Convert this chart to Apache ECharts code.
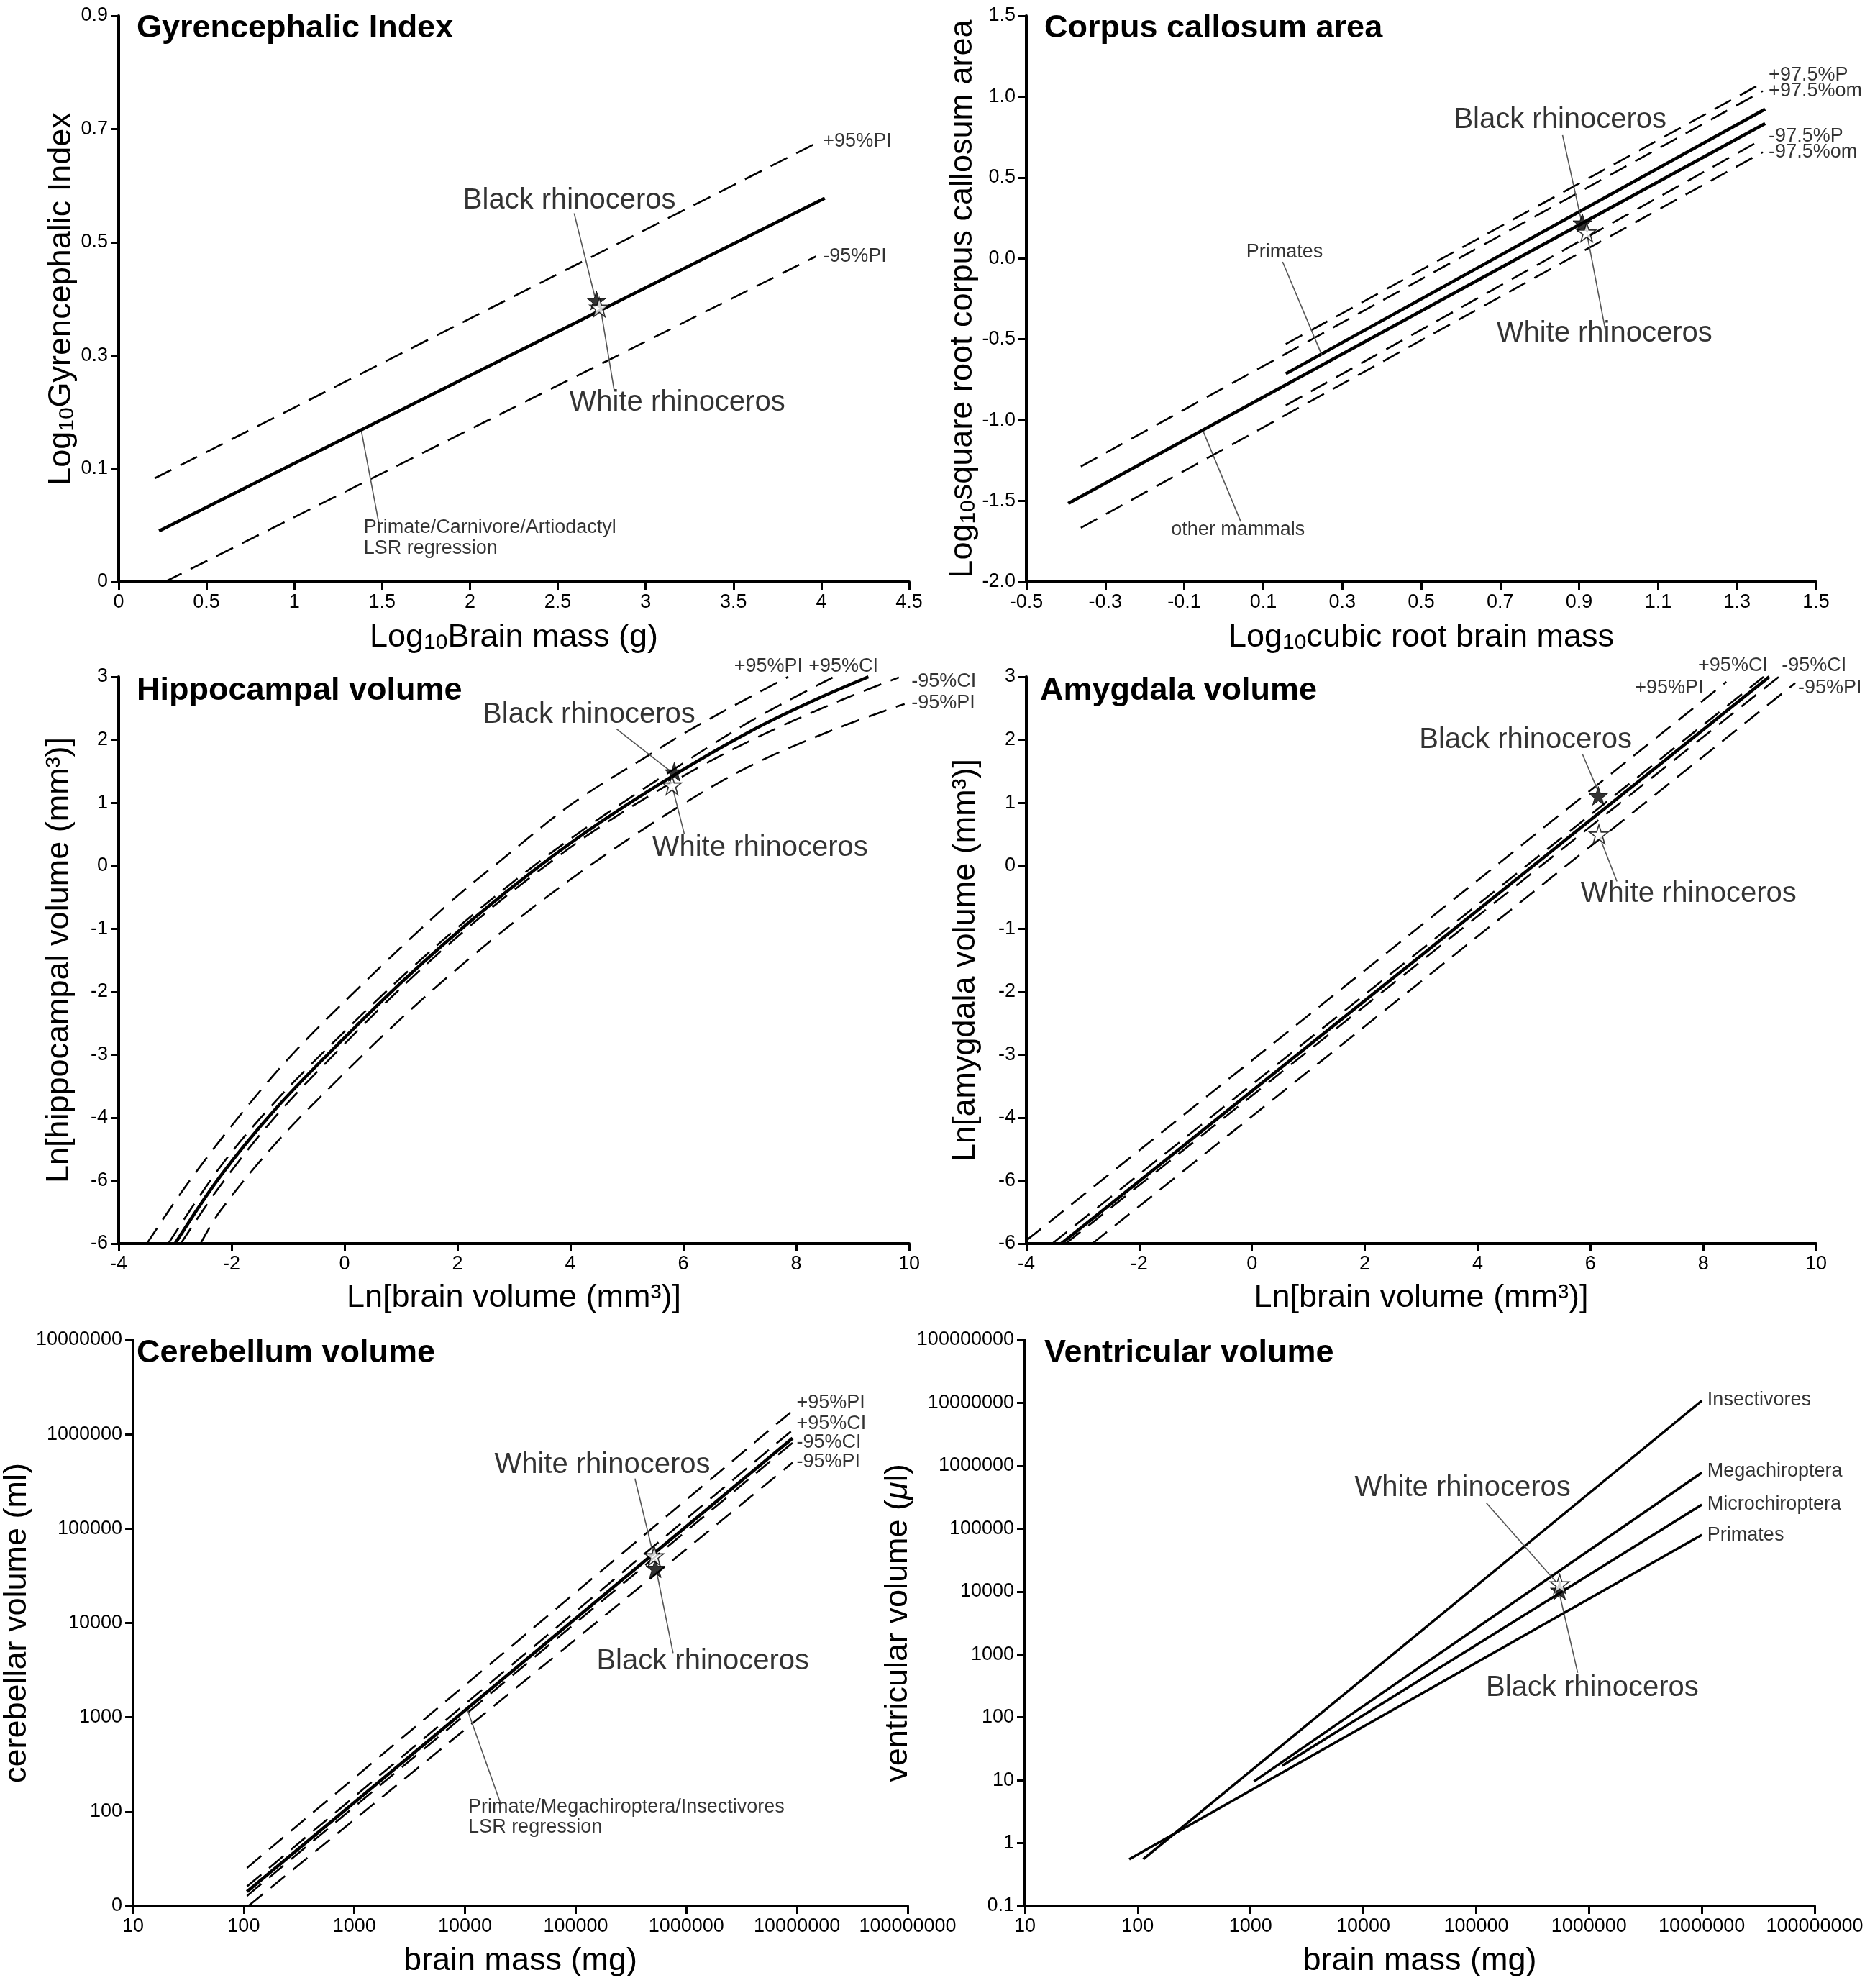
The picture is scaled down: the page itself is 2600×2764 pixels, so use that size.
<!DOCTYPE html>
<html><head><meta charset="utf-8">
<script src="https://cdn.jsdelivr.net/npm/echarts@6/dist/echarts.min.js"></script>
<style>html,body{margin:0;padding:0;background:#fff}#c{width:2600px;height:2764px}</style>
</head><body><div id="c"></div>
<script>
// ================= DATA =================
// A. Gyrencephalic index  (x: log10 brain mass g, y: log10 GI)
const giLSR   = [[0.23,-0.01],[4.02,0.578]];
const giPIup  = [[0.205,0.083],[3.99,0.678]];
const giPIlo  = [[0.263,-0.1],[3.97,0.475]];
const giBlack = [[2.72,0.397]];
const giWhite = [[2.736,0.385]];
const giXTicks  = [0,0.5,1,1.5,2,2.5,3,3.5,4,4.5];
const giXLabels = ['0','0.5','1','1.5','2','2.5','3','3.5','4','4.5'];
const giYTicks  = [-0.1,0.1,0.3,0.5,0.7,0.9];
const giYLabels = ['0','0.1','0.3','0.5','0.7','0.9'];

// B. Corpus callosum area
const ccOther   = [[-0.394,-1.515],[1.371,0.834]];
const ccPrim    = [[0.157,-0.713],[1.371,0.923]];
const ccPup     = [[0.157,-0.53],[1.365,1.086]];
const ccOMup    = [[-0.362,-1.287],[1.365,1.035]];
const ccPlo     = [[0.157,-0.909],[1.365,0.738]];
const ccOMlo    = [[-0.362,-1.666],[1.365,0.657]];
const ccBlack   = [[0.908,0.219]];
const ccWhite   = [[0.919,0.162]];
const ccXTicks  = [-0.5,-0.3,-0.1,0.1,0.3,0.5,0.7,0.9,1.1,1.3,1.5];
const ccXLabels = ['-0.5','-0.3','-0.1','0.1','0.3','0.5','0.7','0.9','1.1','1.3','1.5'];
const ccYTicks  = [-2,-1.5,-1,-0.5,0,0.5,1,1.5];
const ccYLabels = ['-2.0','-1.5','-1.0','-0.5','0.0','0.5','1.0','1.5'];

// C. Hippocampal volume
const hipFit  = [[-3.0,-6],[-2.2,-4.93],[-1.22,-3.86],[-0.10,-2.82],[1.13,-1.75],[2.31,-0.82],[3.4,-0.04],[4.53,0.69],[5.95,1.50],[7.22,2.15],[8.3,2.62],[9.28,3.0]];
const hipCIup = [[-3.12,-6.0],[-2.2,-4.78],[-1.22,-3.74],[-0.10,-2.72],[1.13,-1.67],[2.31,-0.75],[3.4,0.03],[4.53,0.76],[5.95,1.60],[7.22,2.31],[8.67,3.0]];
const hipCIlo = [[-2.9,-6.0],[-2.2,-5.08],[-1.22,-3.98],[-0.10,-2.92],[1.13,-1.83],[2.31,-0.89],[3.4,-0.11],[4.53,0.62],[5.95,1.40],[7.22,2.0],[8.69,2.59],[9.82,2.99]];
const hipPIup = [[-3.5,-6],[-2.79,-5.06],[-1.91,-4.03],[-0.93,-3.0],[0.25,-1.94],[1.82,-0.62],[2.815,0.118],[4.04,0.99],[5.36,1.74],[6.24,2.22],[7.86,3.0]];
const hipPIlo = [[-2.55,-6],[-2.20,-5.48],[-1.22,-4.41],[-0.10,-3.38],[1.13,-2.32],[2.31,-1.40],[3.4,-0.62],[4.53,0.118],[5.95,0.955],[7.22,1.60],[8.69,2.17],[9.92,2.57]];
const hipBlack = [[5.84,1.49]];
const hipWhite = [[5.80,1.28]];

// D. Amygdala volume
const amyFit  = [[-3.38,-6],[9.17,3]];
const amyCIup = [[-3.54,-6],[9.07,3]];
const amyCIlo = [[-3.30,-6],[9.34,3]];
const amyPIup = [[-4.0,-5.95],[8.41,2.92]];
const amyPIlo = [[-2.83,-6],[9.63,2.9]];
const amyBlack = [[6.14,1.11]];
const amyWhite = [[6.15,0.50]];
const volXTicks  = [-4,-2,0,2,4,6,8,10];
const volXLabels = ['-4','-2','0','2','4','6','8','10'];
const volYTicks  = [-6,-5,-4,-3,-2,-1,0,1,2,3];
const volYLabels = ['-6','-6','-4','-3','-2','-1','0','1','2','3'];

// E. Cerebellum volume (x: brain mass mg, y: cerebellar volume)
const cbFit  = [[107,14.2],[9.12e6,9.12e5]];
const cbPIup = [[107,25.4],[9.12e6,1.78e6]];
const cbCIup = [[107,16.1],[9.12e6,1.11e6]];
const cbCIlo = [[107,12.8],[9.12e6,8.13e5]];
const cbPIlo = [[110,10],[9.12e6,5.01e5]];
const cbWhite = [[513000,51300]];
const cbBlack = [[525000,38000]];
const massTicks  = [10,100,1000,10000,100000,1000000,10000000,100000000];
const massLabels = ['10','100','1000','10000','100000','1000000','10000000','100000000'];
const cbYTicks   = [10,100,1000,10000,100000,1000000,10000000];
const cbYLabels  = ['0','100','1000','10000','100000','1000000','10000000'];

// F. Ventricular volume
const venIns   = [[112,0.555],[1e7,1.08e7]];
const venMega  = [[1072,9.55],[1e7,7.76e5]];
const venMicro = [[1905,17.0],[1e7,2.4e5]];
const venPrim  = [[84.1,0.555],[1e7,7.94e4]];
const venWhite = [[550000,13200]];
const venBlack = [[550000,10500]];
const venYTicks  = [0.1,1,10,100,1000,10000,100000,1000000,10000000,100000000];
const venYLabels = ['0.1','1','10','100','1000','10000','100000','1000000','10000000','100000000'];

// ================= STYLE / BUILD =================
const FONT = "'Liberation Sans', Arial, Helvetica, sans-serif";
const STAR = 'path://M50,0 L61.8,35.1 L98.1,35.1 L68.8,56.7 L79.4,91 L50,70 L20.6,91 L31.2,56.7 L1.9,35.1 L38.2,35.1 Z';

function fmt(vals, labs){
  return function(v){
    for (let i=0;i<vals.length;i++){
      if (Math.abs(vals[i]-v) <= 1e-6*Math.max(1,Math.abs(v))) return labs[i];
    }
    return '';
  };
}
const richName = {
  a:{fontSize:45,fontFamily:FONT,color:'#000',verticalAlign:'bottom',lineHeight:54},
  s:{fontSize:30,fontFamily:FONT,color:'#000',verticalAlign:'bottom',lineHeight:24},
  m:{fontSize:45,fontFamily:FONT,color:'#000',verticalAlign:'bottom',lineHeight:54,fontStyle:'italic'}
};
function axis(gi, o){
  const a = {
    type: o.log ? 'log' : 'value', gridIndex: gi,
    min: o.min, max: o.max,
    axisLine:{show:true,onZero:false,lineStyle:{color:'#000',width:4}},
    axisTick:{show:true,length:11,lineStyle:{color:'#000',width:3}},
    axisLabel:{color:'#000',fontSize:27,fontFamily:FONT,margin:o.margin||15,formatter:fmt(o.ticks,o.labels),hideOverlap:false},
    splitLine:{show:false},
    name:o.name, nameLocation:'middle', nameGap:o.gap,
    nameTextStyle:{fontSize:45,fontFamily:FONT,color:'#000',rich:richName}
  };
  if (o.log){ a.logBase = 10; a.splitNumber = 10; } else { a.interval = o.interval; }
  return a;
}
const grids = [
  {left:165, top:22,  width:1099, height:787},
  {left:1427,top:22,  width:1098, height:787},
  {left:165, top:941, width:1099, height:788},
  {left:1427,top:941, width:1098, height:788},
  {left:163, top:1863,width:1099, height:787},
  {left:1425,top:1863,width:1098, height:787}
];
const xAxes = [
  axis(0,{min:0,max:4.5,interval:0.5,ticks:giXTicks,labels:giXLabels,gap:46,name:'{a|Log}{s|10}{a|Brain mass (g)}'}),
  axis(1,{min:-0.5,max:1.5,interval:0.2,ticks:ccXTicks,labels:ccXLabels,gap:46,name:'{a|Log}{s|10}{a|cubic root brain mass}'}),
  axis(2,{min:-4,max:10,interval:2,ticks:volXTicks,labels:volXLabels,gap:53,name:'Ln[brain volume (mm³)]'}),
  axis(3,{min:-4,max:10,interval:2,ticks:volXTicks,labels:volXLabels,gap:53,name:'Ln[brain volume (mm³)]'}),
  axis(4,{log:true,min:10,max:1e8,ticks:massTicks,labels:massLabels,gap:54,name:'brain mass (mg)'}),
  axis(5,{log:true,min:10,max:1e8,ticks:massTicks,labels:massLabels,gap:54,name:'brain mass (mg)'})
];
const yAxes = [
  axis(0,{min:-0.1,max:0.9,interval:0.2,ticks:giYTicks,labels:giYLabels,gap:56,name:'{a|Log}{s|10}{a|Gyrencephalic Index}'}),
  axis(1,{min:-2,max:1.5,interval:0.5,ticks:ccYTicks,labels:ccYLabels,gap:56,name:'{a|Log}{s|10}{a|square root corpus callosum area}'}),
  axis(2,{min:-6,max:3,interval:1,ticks:volYTicks,labels:volYLabels,gap:60,name:'Ln[hippocampal volume (mm³)]'}),
  axis(3,{min:-6,max:3,interval:1,ticks:volYTicks,labels:volYLabels,gap:62,name:'Ln[amygdala volume (mm³)]'}),
  axis(4,{log:true,min:10,max:1e7,ticks:cbYTicks,labels:cbYLabels,gap:93,name:'cerebellar volume (ml)'}),
  axis(5,{log:true,min:0.1,max:1e8,ticks:venYTicks,labels:venYLabels,gap:102,name:'{a|ventricular volume (}{m|μ}{a|l)}'})
];

const series = [];
function ln(gi, data, kind, smooth){
  const st = kind==='solid' ? {color:'#000',width:4.5,type:'solid'}
           : kind==='thin'  ? {color:'#000',width:3.5,type:'solid'}
           : kind==='leader'? {color:'#555',width:1.6,type:'solid'}
           : {color:'#000',width:2.6,type:[26,14]};
  series.push({type:'line',xAxisIndex:gi,yAxisIndex:gi,data:data,symbol:'none',smooth:smooth?0.35:false,
    lineStyle:st,silent:true,animation:false,z:kind==='leader'?3:2});
}
function stars(gi, black, white){
  series.push({type:'scatter',xAxisIndex:gi,yAxisIndex:gi,data:black,symbol:STAR,symbolSize:26,
    itemStyle:{color:'#000',borderColor:'#000',borderWidth:1},z:6,silent:true,animation:false});
  series.push({type:'scatter',xAxisIndex:gi,yAxisIndex:gi,data:white,symbol:STAR,symbolSize:26,
    itemStyle:{color:'#fff',borderColor:'#000',borderWidth:1.6},z:7,silent:true,animation:false});
}
function texts(gi, items){
  series.push({type:'scatter',xAxisIndex:gi,yAxisIndex:gi,symbolSize:0,clip:false,silent:true,animation:false,z:8,
    itemStyle:{color:'transparent'},
    data:items.map(t=>({value:t.at,label:{show:true,formatter:t.text,
      position:t.left?'right':'inside',distance:0,
      fontSize:t.size||40,lineHeight:t.lh||((t.size||40)+4),fontFamily:FONT,color:'#000',align:t.left?'left':'center'}}))});
}

// Panel A
ln(0,giPIup,'dash'); ln(0,giPIlo,'dash'); ln(0,giLSR,'solid');
ln(0,[[2.593,0.551],[2.71,0.405]],'leader');
ln(0,[[2.743,0.384],[2.821,0.238]],'leader');
ln(0,[[1.382,0.166],[1.481,0.004]],'leader');
stars(0,giBlack,giWhite);
texts(0,[
  {at:[2.566,0.574],text:'Black rhinoceros'},
  {at:[3.18,0.216],text:'White rhinoceros'},
  {at:[1.395,-0.022],text:'Primate/Carnivore/Artiodactyl\nLSR regression',left:true,size:27,lh:29},
  {at:[4.01,0.678],text:'+95%PI',left:true,size:27},
  {at:[4.01,0.475],text:'-95%PI',left:true,size:27}
]);

// Panel B
ln(1,ccPup,'dash'); ln(1,ccOMup,'dash'); ln(1,ccPlo,'dash'); ln(1,ccOMlo,'dash');
ln(1,ccOther,'solid'); ln(1,ccPrim,'solid');
ln(1,[[0.858,0.762],[0.905,0.24]],'leader');
ln(1,[[0.92,0.149],[0.966,-0.437]],'leader');
ln(1,[[0.149,-0.021],[0.248,-0.595]],'leader');
ln(1,[[-0.052,-1.07],[0.043,-1.627]],'leader');
stars(1,ccBlack,ccWhite);
texts(1,[
  {at:[0.852,0.854],text:'Black rhinoceros'},
  {at:[0.964,-0.465],text:'White rhinoceros'},
  {at:[0.154,0.037],text:'Primates',size:27},
  {at:[0.036,-1.679],text:'other mammals',size:27},
  {at:[1.38,1.131],text:'+97.5%P',left:true,size:27},
  {at:[1.38,1.035],text:'+97.5%om',left:true,size:27},
  {at:[1.38,0.756],text:'-97.5%P',left:true,size:27},
  {at:[1.38,0.657],text:'-97.5%om',left:true,size:27}
]);

// Panel C
ln(2,hipPIup,'dash',true); ln(2,hipPIlo,'dash',true); ln(2,hipCIup,'dash',true); ln(2,hipCIlo,'dash',true);
ln(2,hipFit,'solid',true);
ln(2,[[4.82,2.17],[5.76,1.51]],'leader');
ln(2,[[5.81,1.24],[6.02,0.50]],'leader');
stars(2,hipBlack,hipWhite);
texts(2,[
  {at:[4.33,2.40],text:'Black rhinoceros'},
  {at:[7.36,0.284],text:'White rhinoceros'},
  {at:[6.90,3.16],text:'+95%PI',left:true,size:27},
  {at:[8.22,3.16],text:'+95%CI',left:true,size:27},
  {at:[10.04,2.92],text:'-95%CI',left:true,size:27},
  {at:[10.04,2.58],text:'-95%PI',left:true,size:27}
]);

// Panel D
ln(3,amyPIup,'dash'); ln(3,amyPIlo,'dash'); ln(3,amyCIup,'dash'); ln(3,amyCIlo,'dash');
ln(3,amyFit,'solid');
ln(3,[[5.86,1.77],[6.12,1.22]],'leader');
ln(3,[[6.20,0.37],[6.47,-0.25]],'leader');
stars(3,amyBlack,amyWhite);
texts(3,[
  {at:[4.85,1.995],text:'Black rhinoceros'},
  {at:[7.74,-0.45],text:'White rhinoceros'},
  {at:[7.91,3.18],text:'+95%CI',left:true,size:27},
  {at:[9.39,3.18],text:'-95%CI',left:true,size:27},
  {at:[6.79,2.82],text:'+95%PI',left:true,size:27},
  {at:[9.68,2.82],text:'-95%PI',left:true,size:27}
]);

// Panel E
ln(4,cbPIup,'dash'); ln(4,cbCIup,'dash'); ln(4,cbCIlo,'dash'); ln(4,cbPIlo,'dash');
ln(4,cbFit,'solid');
ln(4,[[343000,339000],[495000,57500]],'leader');
ln(4,[[537000,35500],[759000,4790]],'leader');
ln(4,[[10500,1200],[20900,123]],'leader');
stars(4,cbBlack,cbWhite);
texts(4,[
  {at:[174000,468000],text:'White rhinoceros'},
  {at:[1.41e6,3890],text:'Black rhinoceros'},
  {at:[10700,88],text:'Primate/Megachiroptera/Insectivores\nLSR regression',left:true,size:27,lh:28},
  {at:[9.9e6,2.14e6],text:'+95%PI',left:true,size:27},
  {at:[9.9e6,1.29e6],text:'+95%CI',left:true,size:27},
  {at:[9.9e6,8.13e5],text:'-95%CI',left:true,size:27},
  {at:[9.9e6,5.13e5],text:'-95%PI',left:true,size:27}
]);

// Panel F
ln(5,venIns,'thin'); ln(5,venMega,'thin'); ln(5,venMicro,'thin'); ln(5,venPrim,'thin');
ln(5,[[123000,257000],[513000,14100]],'leader');
ln(5,[[550000,8900],[794000,513]],'leader');
stars(5,venBlack,venWhite);
texts(5,[
  {at:[75900,437000],text:'White rhinoceros'},
  {at:[1.07e6,295],text:'Black rhinoceros'},
  {at:[1.12e7,1.12e7],text:'Insectivores',left:true,size:27},
  {at:[1.12e7,8.13e5],text:'Megachiroptera',left:true,size:27},
  {at:[1.12e7,2.45e5],text:'Microchiroptera',left:true,size:27},
  {at:[1.12e7,7.94e4],text:'Primates',left:true,size:27}
]);

const titleStyle = {fontSize:45,fontWeight:'bold',fontFamily:FONT,color:'#000'};
const titles = [
  {text:'Gyrencephalic Index',left:190,top:17},
  {text:'Corpus callosum area',left:1452,top:17},
  {text:'Hippocampal volume',left:190,top:938},
  {text:'Amygdala volume',left:1446,top:938},
  {text:'Cerebellum volume',left:190,top:1859},
  {text:'Ventricular volume',left:1452,top:1859}
].map(t=>Object.assign(t,{padding:0,textStyle:titleStyle}));

const chart = echarts.init(document.getElementById('c'),null,{renderer:'canvas'});
chart.setOption({
  animation:false, backgroundColor:'#fff',
  title:titles, grid:grids, xAxis:xAxes, yAxis:yAxes, series:series
});
</script></body></html>
